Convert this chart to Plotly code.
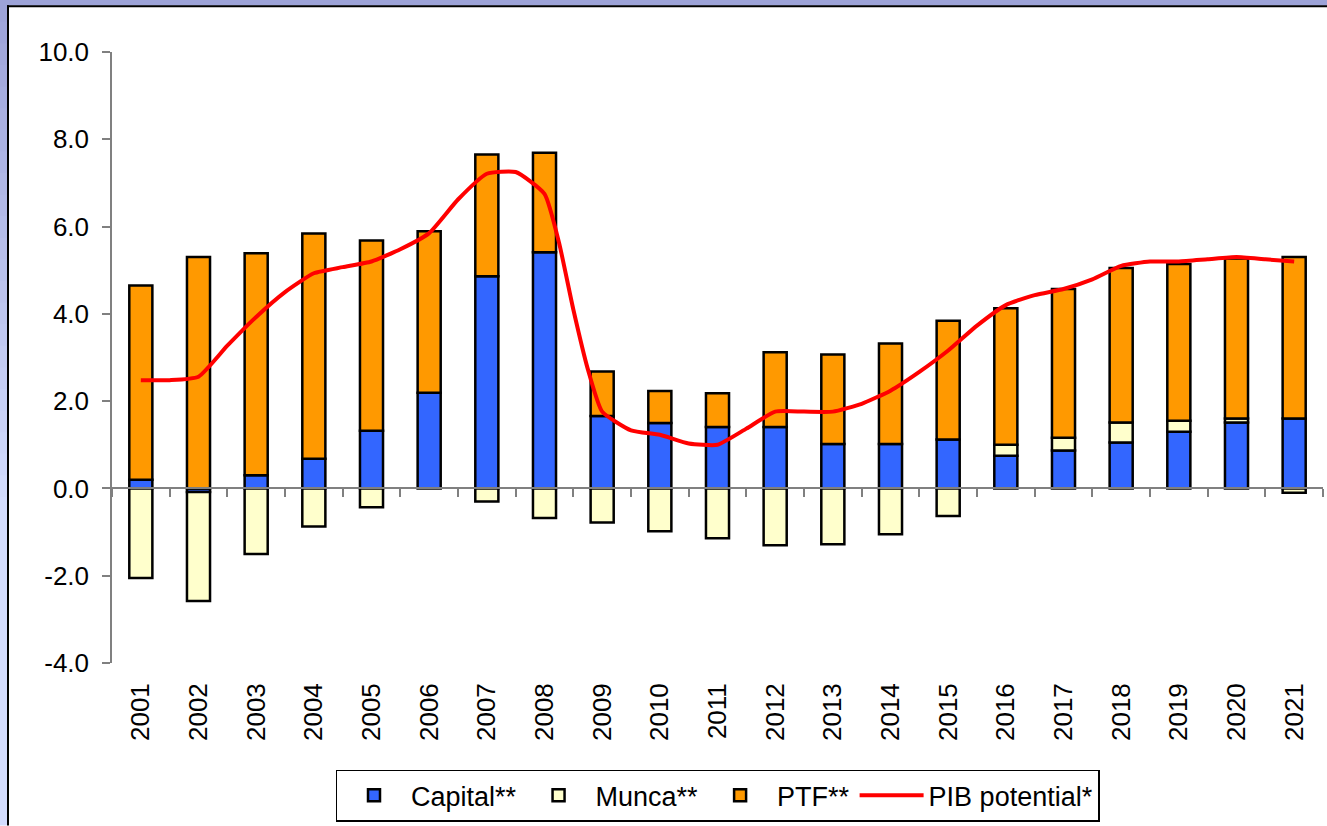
import plotly.graph_objects as go

# ---------------- data ----------------
years = [str(y) for y in range(2001, 2022)]
capital = [0.2, -0.08, 0.3, 0.68, 1.32, 2.19, 4.86, 5.41, 1.66, 1.5, 1.41, 1.41, 1.02, 1.02,
           1.12, 0.75, 0.87, 1.05, 1.30, 1.51, 1.6]
munca = [-2.05, -2.5, -1.5, -0.87, -0.43, 0.0, -0.3, -0.68, -0.78, -0.98, -1.14, -1.3, -1.28,
         -1.05, -0.63, 0.25, 0.29, 0.46, 0.25, 0.09, -0.1]
ptf = [4.45, 5.3, 5.09, 5.16, 4.36, 3.7, 2.79, 2.28, 1.02, 0.73, 0.77, 1.71, 2.05, 2.3,
       2.72, 3.13, 3.41, 3.54, 3.59, 3.67, 3.7]

pib_t = [2001, 2001.5, 2002, 2002.5, 2003, 2003.5, 2004, 2004.5, 2005, 2005.5, 2006, 2006.5,
         2007, 2007.5, 2008, 2008.25, 2008.5, 2008.75, 2009, 2009.5, 2010, 2010.5, 2011,
         2011.5, 2012, 2012.5, 2013, 2013.5, 2014, 2014.5, 2015, 2015.5, 2016, 2016.5, 2017,
         2017.5, 2018, 2018.5, 2019, 2019.5, 2020, 2020.5, 2021]
pib = [2.48, 2.48, 2.56, 3.27, 3.93, 4.5, 4.93, 5.07, 5.2, 5.48, 5.85, 6.62,
       7.21, 7.25, 6.75, 5.64, 4.1, 2.74, 1.76, 1.33, 1.23, 1.03, 1.0,
       1.37, 1.76, 1.76, 1.76, 1.94, 2.24, 2.67, 3.16, 3.73, 4.2, 4.43, 4.57,
       4.79, 5.1, 5.2, 5.2, 5.25, 5.3, 5.25, 5.2]

y_ticks = [-4, -2, 0, 2, 4, 6, 8, 10]
y_ticktext = ["-4.0", "-2.0", "0.0", "2.0", "4.0", "6.0", "8.0", "10.0"]

# ---------------- layout geometry ----------------
W, H = 1327, 826
ML, MR, MT, MB = 112, 4, 52, 161
PW, PH = W - ML - MR, H - MT - MB
YMIN, YMAX = -4, 10
FONT = "Liberation Sans, Arial, sans-serif"

def px_x(px):
    return (px - ML) / PW

def px_y(py):
    return 1 - (py - MT) / PH

idx = list(range(len(years)))
first_year = int(years[0])
pib_x = [t - first_year for t in pib_t]

fig = go.Figure()
bar_line = dict(color="black", width=2.5)
fig.add_trace(go.Bar(x=idx, y=capital, name="Capital**", marker=dict(color="#3366FF", line=bar_line), width=0.4))
fig.add_trace(go.Bar(x=idx, y=munca, name="Munca**", marker=dict(color="#FFFFCC", line=bar_line), width=0.4))
fig.add_trace(go.Bar(x=idx, y=ptf, name="PTF**", marker=dict(color="#FF9900", line=bar_line), width=0.4))
fig.add_trace(go.Scatter(x=pib_x, y=pib, name="PIB potential*", mode="lines",
                         line=dict(color="#FF0000", width=4, shape="spline", smoothing=0.5)))
# invisible trace to host the zero-crossing category axis
fig.add_trace(go.Scatter(x=[idx[0]], y=[0], xaxis="x2", mode="markers", marker=dict(opacity=0),
                         showlegend=False, hoverinfo="skip"))

# frame: lavender border with gradient on the left strip
shapes = []
top_c = (157, 163, 216)
bot_c = (211, 220, 254)
n = 24
for i in range(n):
    y0p = i * 520 / n
    y1p = (i + 1) * 520 / n
    f = i / (n - 1)
    c = tuple(round(top_c[k] + (bot_c[k] - top_c[k]) * f) for k in range(3))
    shapes.append(dict(type="rect", xref="paper", yref="paper", layer="below",
                       x0=px_x(-1), x1=px_x(8), y0=px_y(y1p + 1), y1=px_y(y0p),
                       fillcolor="rgb(%d,%d,%d)" % c, line=dict(width=0)))
shapes.append(dict(type="rect", xref="paper", yref="paper", layer="below",
                   x0=px_x(-1), x1=px_x(8), y0=px_y(H + 2), y1=px_y(520),
                   fillcolor="rgb(%d,%d,%d)" % bot_c, line=dict(width=0)))
shapes.append(dict(type="rect", xref="paper", yref="paper", layer="below",
                   x0=px_x(-1), x1=px_x(W + 2), y0=px_y(5.5), y1=px_y(-1),
                   fillcolor="rgb(%d,%d,%d)" % top_c, line=dict(width=0)))
shapes.append(dict(type="line", xref="paper", yref="paper", layer="below",
                   x0=px_x(8), x1=px_x(8), y0=px_y(5), y1=px_y(H + 2),
                   line=dict(color="black", width=2)))
shapes.append(dict(type="line", xref="paper", yref="paper", layer="below",
                   x0=px_x(7), x1=px_x(W + 2), y0=px_y(6), y1=px_y(6),
                   line=dict(color="black", width=2)))

boundaries = [i - 0.5 for i in range(len(years) + 1)]

fig.update_layout(
    width=W, height=H, autosize=False,
    margin=dict(l=ML, r=MR, t=MT, b=MB),
    paper_bgcolor="white", plot_bgcolor="rgba(0,0,0,0)",
    barmode="relative",
    font=dict(family=FONT, size=26, color="black"),
    shapes=shapes,
    xaxis=dict(range=[-0.5, len(years) - 0.5], tickmode="array", tickvals=idx, ticktext=years,
               tickangle=-90, showline=False, ticks="", showgrid=False, zeroline=False,
               tickfont=dict(family=FONT, size=26, color="black"), ticklabelstandoff=14),
    xaxis2=dict(overlaying="x", anchor="free", position=(0 - YMIN) / (YMAX - YMIN),
                range=[-0.5, len(years) - 0.5], tickmode="array", tickvals=boundaries,
                ticks="outside", ticklen=8, tickwidth=1.5, tickcolor="#808080",
                showline=True, linecolor="#808080", linewidth=1.5,
                showticklabels=False, showgrid=False, zeroline=False),
    yaxis=dict(range=[YMIN, YMAX], tickmode="array", tickvals=y_ticks, ticktext=y_ticktext,
               ticks="outside", ticklen=8, tickwidth=1.5, tickcolor="#808080",
               showline=True, linecolor="#808080", linewidth=1.5,
               showgrid=False, zeroline=False,
               tickfont=dict(family=FONT, size=26, color="black"), ticklabelstandoff=8),
    legend=dict(orientation="h", x=0.5, xanchor="center", y=px_y(772), yanchor="top",
                bordercolor="black", borderwidth=1.5, bgcolor="white",
                font=dict(family=FONT, size=27, color="black"), traceorder="normal",
                itemwidth=64),
    showlegend=True,
)

fig.write_html("out.html", config={"displayModeBar": False},
               post_script="document.body.style.margin='0px';document.body.style.padding='0px';")
